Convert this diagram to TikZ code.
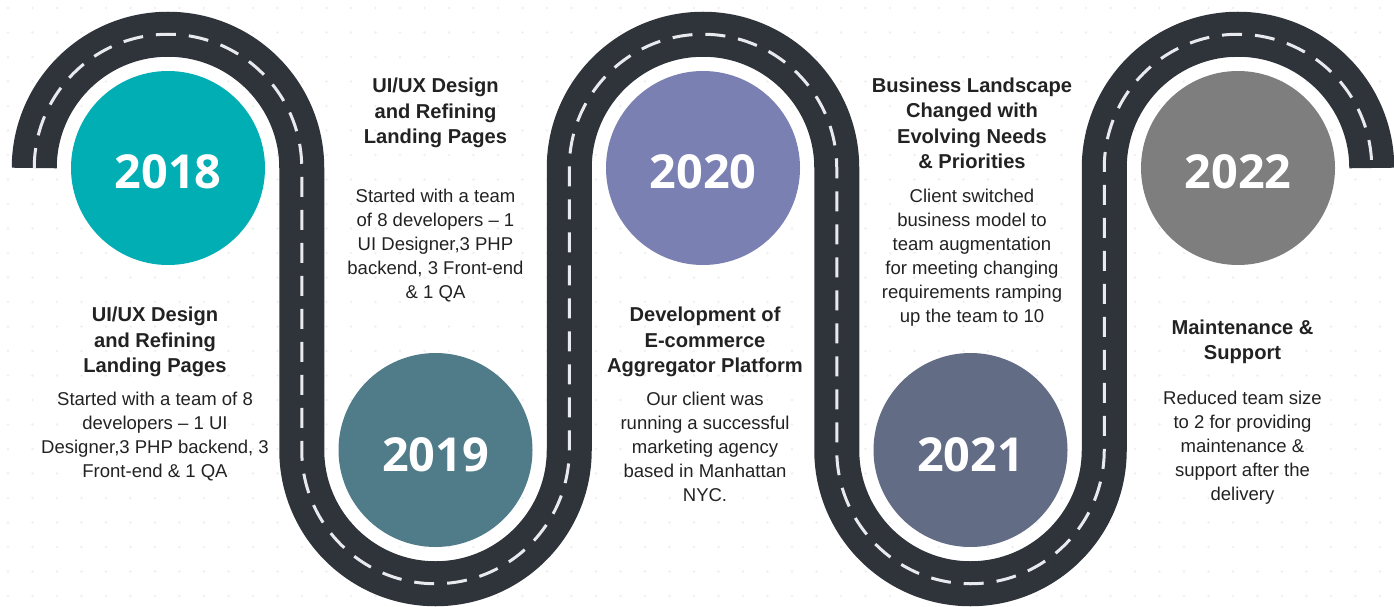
\documentclass[tikz,border=0pt]{standalone}
\usepackage{fontspec}
\setmainfont{Liberation Sans}
\newfontfamily\yearfont{Open Sans}
\usetikzlibrary{positioning}
\definecolor{roadDark}{RGB}{47,52,58}
\definecolor{laneWhite}{RGB}{232,234,238}
\definecolor{dotGray}{RGB}{238,239,241}
\definecolor{textDark}{RGB}{34,34,34}
\definecolor{yearTeal}{RGB}{0,174,180}
\definecolor{yearSlate}{RGB}{80,124,138}
\definecolor{yearLavender}{RGB}{123,128,178}
\definecolor{yearIndigo}{RGB}{99,108,133}
\definecolor{yearGray}{RGB}{126,126,126}
\tikzset{
  yearball/.style={circle,minimum size=194bp,inner sep=0pt,text=white,
    text height=42bp,text depth=0pt,
    font=\yearfont\bfseries\fontsize{47}{51}\selectfont},
  headtext/.style={align=center,inner sep=0pt,text=textDark,
    font=\bfseries\fontsize{20.2}{25.5}\selectfont},
  bodytext/.style={align=center,inner sep=0pt,text=textDark,
    font=\fontsize{18.6}{24}\selectfont},
  road/.style={line width=45bp,draw=roadDark},
  lane/.style={line width=3bp,draw=laneWhite,dash pattern=on 20bp off 13bp}
}
\begin{document}
\begin{tikzpicture}[x=1bp,y=-1bp,node distance=15bp]
\useasboundingbox (0,0) rectangle (1394,607);
% dotted background
\foreach \i in {0,...,56}
  \foreach \j in {0,...,24}
    \fill[dotGray] (8+24.5*\i,8+24.5*\j) circle (1.4bp);
% the winding road
\foreach \layer in {road,lane}
  \draw[\layer] (34.25,168) arc[start angle=180,end angle=360,radius=133.75]
    -- ++(0,282) arc[start angle=180,end angle=0,radius=133.75]
    -- ++(0,-282) arc[start angle=180,end angle=360,radius=133.75]
    -- ++(0,282) arc[start angle=180,end angle=0,radius=133.75]
    -- ++(0,-282) arc[start angle=180,end angle=360,radius=133.75];
% year circles
\node[yearball,fill=yearTeal] (y2018) at (168,168) {2018};
\node[yearball,fill=yearSlate] (y2019) at (435.5,450) {2019};
\node[yearball,fill=yearLavender] (y2020) at (703,168) {2020};
\node[yearball,fill=yearIndigo] (y2021) at (970.5,450) {2021};
\node[yearball,fill=yearGray] (y2022) at (1238,168) {2022};
% milestones
\node[headtext] (head2018) at (155,342) {UI/UX Design\\and Refining\\Landing Pages};
\node[bodytext,below=of head2018] (body2018) {Started with a team of 8\\developers -- 1 UI\\Designer,3 PHP backend, 3\\Front-end \& 1 QA};
\node[headtext] (head2019) at (435.5,113) {UI/UX Design\\and Refining\\Landing Pages};
\node[bodytext,below=41bp of head2019] (body2019) {Started with a team\\of 8 developers -- 1\\UI Designer,3 PHP\\backend, 3 Front-end\\\& 1 QA};
\node[headtext] (head2020) at (705,342) {Development of\\E-commerce\\Aggregator Platform};
\node[bodytext,below=of head2020] (body2020) {Our client was\\running a successful\\marketing agency\\based in Manhattan\\NYC.};
\node[headtext] (head2021) at (972,123.5) {Business Landscape\\Changed with\\Evolving Needs\\\& Priorities};
\node[bodytext,below=20bp of head2021] (body2021) {Client switched\\business model to\\team augmentation\\for meeting changing\\requirements ramping\\up the team to 10};
\node[headtext] (head2022) at (1242.5,342) {Maintenance \&\\Support};
\node[bodytext,below=27bp of head2022] (body2022) {Reduced team size\\to 2 for providing\\maintenance \&\\support after the\\delivery};
\end{tikzpicture}
\end{document}
